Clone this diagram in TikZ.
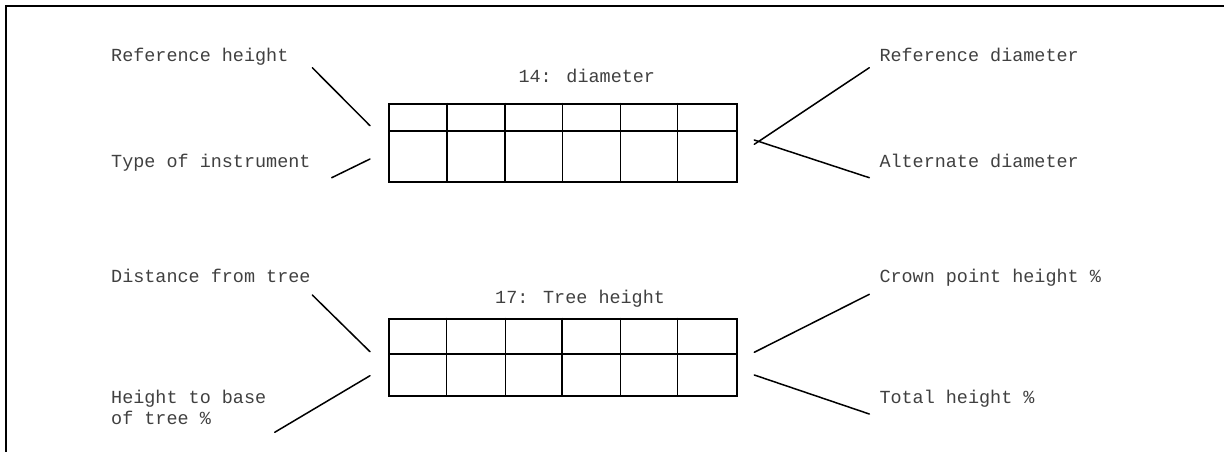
\documentclass[tikz,border=0pt]{standalone}
\usepackage{fontspec}
\newfontfamily\monof{Liberation Mono}
\begin{document}
\begin{tikzpicture}[x=1pt,y=-1pt,
  lbl/.style={anchor=base west, inner sep=0pt, font=\monof\fontsize{18.45}{21.6}\selectfont, text=black!75, align=left},
  conn/.style={line width=1.5pt, line cap=round},
  gridbox/.style={draw, line width=2pt, inner sep=0pt, anchor=north west, minimum width=347.7pt},
  thinl/.style={line width=1pt},
  thickl/.style={line width=1.8pt}]
\useasboundingbox (0,0) rectangle (1224,451);
% frame
\draw[line width=2pt] (6,452) -- (6,6) -- (1225,6);

% ---------- top box: 14: diameter ----------
\node[lbl] (t1) at (518.3,82.7) {14: diameter};
\node[gridbox, minimum height=78.6pt] (b1) at (388,102.7) {};
\draw[thickl] (388,130.7) -- (735.7,130.7);
\draw[thickl] (446.7,102.7) -- (446.7,181.3);
\draw[thickl] (505,102.7) -- (505,181.3);
\foreach \x in {562.3,620,677.3} \draw[thinl] (\x,102.7) -- (\x,181.3);

\node[lbl] (rh) at (111,61.7) {Reference height};
\node[lbl] (ti) at (111,167.7) {Type of instrument};
\node[lbl] (rd) at (879.3,61.7) {Reference diameter};
\node[lbl] (ad) at (879.3,167.7) {Alternate diameter};

\coordinate (rh1) at (312.3,67.7);  \coordinate (rh2) at (370,125.7);
\coordinate (ti1) at (331.7,177.7); \coordinate (ti2) at (370,159);
\coordinate (rd1) at (869.3,67.7);  \coordinate (rd2) at (754.3,144.3);
\coordinate (ad1) at (869.3,177.7); \coordinate (ad2) at (754.3,140);
\draw[conn] (rh1) -- (rh2);
\draw[conn] (ti1) -- (ti2);
\draw[conn] (rd1) -- (rd2);
\draw[conn] (ad1) -- (ad2);

% ---------- bottom box: 17: Tree height ----------
\node[lbl] (t2) at (495,303.3) {17: Tree height};
\node[gridbox, minimum height=77.3pt] (b2) at (388,317.7) {};
\draw[thickl] (388,354) -- (735.7,354);
\draw[thickl] (562.3,317.7) -- (562.3,395);
\foreach \x in {446.7,505,620,677.3} \draw[thinl] (\x,317.7) -- (\x,395);

\node[lbl] (df) at (111,282.3) {Distance from tree};
\node[lbl] (hb) at (111,424.9) {Height to base\\of tree \%};
\node[lbl] (cp) at (879.3,282.3) {Crown point height \%};
\node[lbl] (th) at (879.3,403.3) {Total height \%};

\coordinate (df1) at (312.3,295);   \coordinate (df2) at (370,351.7);
\coordinate (hb1) at (274.7,432.3); \coordinate (hb2) at (370,375.7);
\coordinate (cp1) at (869.3,294.3); \coordinate (cp2) at (754.3,352.3);
\coordinate (th1) at (869.3,414);   \coordinate (th2) at (754.3,375);
\draw[conn] (df1) -- (df2);
\draw[conn] (hb1) -- (hb2);
\draw[conn] (cp1) -- (cp2);
\draw[conn] (th1) -- (th2);
\end{tikzpicture}
\end{document}
